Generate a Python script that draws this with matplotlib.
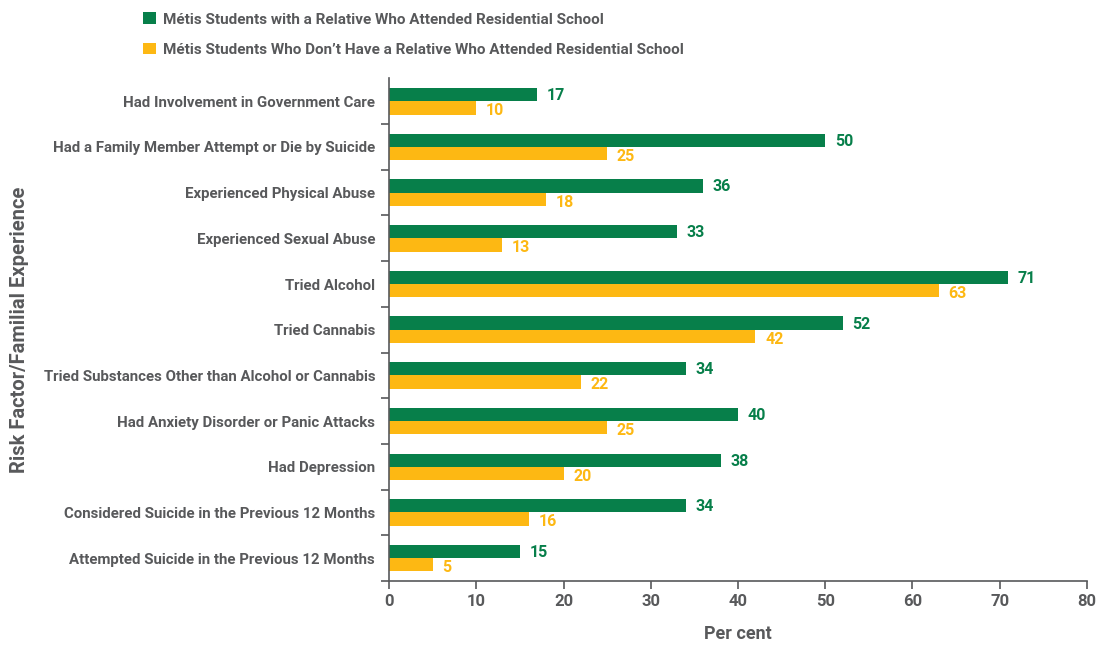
import matplotlib
matplotlib.use("Agg")
import matplotlib.pyplot as plt
import numpy as np

categories = [
    "Had Involvement in Government Care",
    "Had a Family Member Attempt or Die by Suicide",
    "Experienced Physical Abuse",
    "Experienced Sexual Abuse",
    "Tried Alcohol",
    "Tried Cannabis",
    "Tried Substances Other than Alcohol or Cannabis",
    "Had Anxiety Disorder or Panic Attacks",
    "Had Depression",
    "Considered Suicide in the Previous 12 Months",
    "Attempted Suicide in the Previous 12 Months",
]
with_relative = [17, 50, 36, 33, 71, 52, 34, 40, 38, 34, 15]
without_relative = [10, 25, 18, 13, 63, 42, 22, 25, 20, 16, 5]
series_names = [
    "Métis Students with a Relative Who Attended Residential School",
    "Métis Students Who Don\u2019t Have a Relative Who Attended Residential School",
]
xticks = [0, 10, 20, 30, 40, 50, 60, 70, 80]

GREEN = "#077F4A"
YELLOW = "#FDB813"
GREY = "#58595B"

plt.rcParams["font.family"] = ["Roboto", "DejaVu Sans"]

fig = plt.figure(figsize=(10.99, 6.46), dpi=100)
ax = fig.add_axes([0.354, 0.1006, 0.635, 0.778])

n = len(categories)
y = np.arange(n)
h = 0.29
b1 = ax.barh(y - h / 2, with_relative, height=h, color=GREEN, label=series_names[0])
b2 = ax.barh(y + h / 2, without_relative, height=h, color=YELLOW, label=series_names[1])

for yi, v in zip(y, with_relative):
    ax.text(v + 1.1, yi - h / 2 + 0.02, str(v), color=GREEN, fontsize=11.5, fontweight="bold",
            va="center", ha="left")
for yi, v in zip(y, without_relative):
    ax.text(v + 1.1, yi + h / 2 + 0.06, str(v), color=YELLOW, fontsize=11.5, fontweight="bold",
            va="center", ha="left")

ax.set_ylim(n - 0.5, -0.5)
ax.set_xlim(0, 80)
ax.set_yticks(y)
ax.set_yticklabels(categories, fontsize=10.8, fontweight="bold", color=GREY)
ax.tick_params(axis="y", length=0, pad=10)
ax.set_yticks(np.arange(-0.5, n, 1)[1:], minor=True)
ax.tick_params(axis="y", which="minor", length=6, color=GREY, width=1.2)
ax.set_xticks(xticks)
ax.set_xticklabels([str(t) for t in xticks], fontsize=12, fontweight="bold", color=GREY)
ax.tick_params(axis="x", length=6, color=GREY, width=1.2, pad=3)

for s in ["top", "right"]:
    ax.spines[s].set_visible(False)
for s in ["left", "bottom"]:
    ax.spines[s].set_color(GREY)
    ax.spines[s].set_linewidth(1.2)

ax.set_xlabel("Per cent", fontsize=13, fontweight="bold", color=GREY, labelpad=12)
fig.text(0.018, 0.49, "Risk Factor/Familial Experience", rotation=90, fontsize=14.5,
         fontweight="bold", color=GREY, va="center", ha="center")

fig.legend(handles=[b1, b2], labels=series_names, loc="upper left",
           bbox_to_anchor=(0.118, 1.002), frameon=False,
           handlelength=0.8, handleheight=0.8, handletextpad=0.5, labelspacing=1.05,
           labelcolor=GREY, prop={"weight": "bold", "size": 11})

fig.savefig("out.png", dpi=100)
